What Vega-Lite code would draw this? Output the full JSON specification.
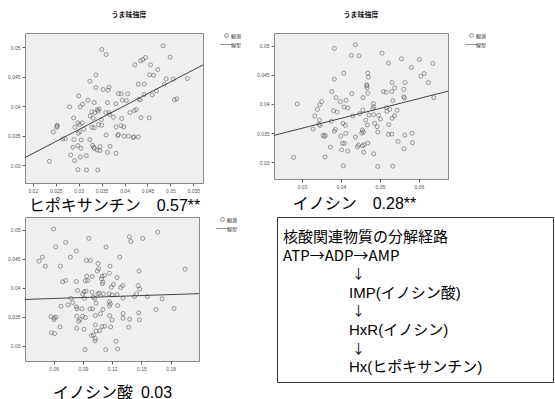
{
"$schema": "https://vega.github.io/schema/vega-lite/v6.json",
"background": "white",
"padding": {"left": 6, "top": 10, "right": 0, "bottom": 0},
"config": {
 "view": {"fill": "#efefef", "stroke": "#8a8a8a", "strokeWidth": 1},
 "axis": {"domain": false, "grid": false, "tickSize": 3, "tickColor": "#666", "labelFontSize": 5, "labelColor": "#555", "labelFont": "Liberation Sans", "labelPadding": 2, "labelOverlap": false, "labelFlush": false, "labelSeparation": 0, "titleFont": "Liberation Sans, Noto Sans CJK JP", "titleFontSize": 16, "titleFontWeight": "normal", "titleColor": "#000", "titlePadding": 5},
 "title": {"fontSize": 7, "fontWeight": "bold", "font": "Noto Sans CJK JP", "color": "#222", "offset": 15, "anchor": "middle"},
 "legend": {"orient": "right", "offset": 21, "title": null, "labelFontSize": 5, "labelFont": "Noto Sans CJK JP", "labelColor": "#333", "rowPadding": 2, "symbolSize": 16, "symbolStrokeWidth": 0.8, "symbolStrokeColor": "#444", "symbolFillColor": "transparent", "padding": 0, "labelOffset": 2}
},
"datasets": {
 "p1": [{"x":0.03504,"y":0.04961},{"x":0.03598,"y":0.04876},{"x":0.04841,"y":0.05023},{"x":0.04993,"y":0.04831},{"x":0.04458,"y":0.04825},{"x":0.04400,"y":0.04791},{"x":0.04350,"y":0.04768},{"x":0.04227,"y":0.04701},{"x":0.04567,"y":0.04701},{"x":0.04726,"y":0.04622},{"x":0.04545,"y":0.04531},{"x":0.04632,"y":0.04525},{"x":0.03374,"y":0.04531},{"x":0.03244,"y":0.04424},{"x":0.04906,"y":0.04463},{"x":0.05066,"y":0.04458},{"x":0.05369,"y":0.04469},{"x":0.04299,"y":0.04373},{"x":0.04429,"y":0.04373},{"x":0.04870,"y":0.04373},{"x":0.03374,"y":0.04316},{"x":0.03533,"y":0.04283},{"x":0.03641,"y":0.04271},{"x":0.03663,"y":0.04322},{"x":0.03865,"y":0.04215},{"x":0.03923,"y":0.04209},{"x":0.04068,"y":0.04209},{"x":0.04429,"y":0.04198},{"x":0.04603,"y":0.04192},{"x":0.04697,"y":0.04260},{"x":0.02998,"y":0.04175},{"x":0.02803,"y":0.03989},{"x":0.03034,"y":0.03989},{"x":0.03085,"y":0.04034},{"x":0.03200,"y":0.04102},{"x":0.03338,"y":0.04062},{"x":0.03627,"y":0.04062},{"x":0.03808,"y":0.04040},{"x":0.03952,"y":0.04102},{"x":0.04039,"y":0.04096},{"x":0.04314,"y":0.04119},{"x":0.04343,"y":0.04107},{"x":0.05087,"y":0.04107},{"x":0.05138,"y":0.04124},{"x":0.03403,"y":0.03938},{"x":0.03424,"y":0.03915},{"x":0.03446,"y":0.03955},{"x":0.03287,"y":0.03904},{"x":0.03352,"y":0.03893},{"x":0.03591,"y":0.03893},{"x":0.03663,"y":0.03893},{"x":0.03677,"y":0.03859},{"x":0.03251,"y":0.03836},{"x":0.03316,"y":0.03797},{"x":0.02889,"y":0.03802},{"x":0.03757,"y":0.03814},{"x":0.03938,"y":0.03791},{"x":0.04118,"y":0.03893},{"x":0.04212,"y":0.03927},{"x":0.04256,"y":0.03944},{"x":0.04357,"y":0.03808},{"x":0.04538,"y":0.03802},{"x":0.03497,"y":0.03774},{"x":0.02983,"y":0.03718},{"x":0.03019,"y":0.03689},{"x":0.03077,"y":0.03718},{"x":0.02918,"y":0.03644},{"x":0.03113,"y":0.03610},{"x":0.03287,"y":0.03644},{"x":0.03338,"y":0.03633},{"x":0.03432,"y":0.03689},{"x":0.03504,"y":0.03678},{"x":0.03815,"y":0.03650},{"x":0.03923,"y":0.03672},{"x":0.03981,"y":0.03650},{"x":0.02528,"y":0.03678},{"x":0.02521,"y":0.03644},{"x":0.02535,"y":0.03661},{"x":0.02448,"y":0.03565},{"x":0.03019,"y":0.03565},{"x":0.02991,"y":0.03542},{"x":0.03598,"y":0.03514},{"x":0.03851,"y":0.03503},{"x":0.03865,"y":0.03520},{"x":0.03988,"y":0.03492},{"x":0.04082,"y":0.03492},{"x":0.04191,"y":0.03469},{"x":0.04198,"y":0.03486},{"x":0.04299,"y":0.03480},{"x":0.02651,"y":0.03446},{"x":0.02709,"y":0.03452},{"x":0.02897,"y":0.03435},{"x":0.03056,"y":0.03429},{"x":0.03244,"y":0.03435},{"x":0.02875,"y":0.03305},{"x":0.03048,"y":0.03288},{"x":0.02983,"y":0.03333},{"x":0.03301,"y":0.03339},{"x":0.03323,"y":0.03305},{"x":0.03345,"y":0.03288},{"x":0.03403,"y":0.03260},{"x":0.03468,"y":0.03316},{"x":0.03460,"y":0.03249},{"x":0.03685,"y":0.03322},{"x":0.02824,"y":0.03175},{"x":0.03034,"y":0.03141},{"x":0.03164,"y":0.03164},{"x":0.03627,"y":0.03220},{"x":0.03815,"y":0.03203},{"x":0.02911,"y":0.03079},{"x":0.02362,"y":0.03068},{"x":0.02983,"y":0.02927},{"x":0.03171,"y":0.02921},{"x":0.03417,"y":0.02921}],
 "p1line": [{"x":0.0183,"y":0.0313},{"x":0.0571,"y":0.0470}],
 "p2": [{"x":0.04371,"y":0.05018},{"x":0.03831,"y":0.04955},{"x":0.04268,"y":0.04834},{"x":0.04465,"y":0.04828},{"x":0.05057,"y":0.04874},{"x":0.05554,"y":0.04776},{"x":0.06017,"y":0.04765},{"x":0.05220,"y":0.04702},{"x":0.06359,"y":0.04696},{"x":0.05811,"y":0.04627},{"x":0.04071,"y":0.04529},{"x":0.04688,"y":0.04529},{"x":0.04705,"y":0.04460},{"x":0.06051,"y":0.04477},{"x":0.06137,"y":0.04523},{"x":0.03831,"y":0.04426},{"x":0.04663,"y":0.04328},{"x":0.04663,"y":0.04311},{"x":0.04671,"y":0.04276},{"x":0.05314,"y":0.04368},{"x":0.05648,"y":0.04368},{"x":0.06248,"y":0.04368},{"x":0.03763,"y":0.04213},{"x":0.04277,"y":0.04178},{"x":0.04688,"y":0.04184},{"x":0.04568,"y":0.04109},{"x":0.05091,"y":0.04213},{"x":0.05160,"y":0.04201},{"x":0.05305,"y":0.04213},{"x":0.05382,"y":0.04276},{"x":0.05614,"y":0.04253},{"x":0.05614,"y":0.04121},{"x":0.05631,"y":0.04104},{"x":0.06385,"y":0.04109},{"x":0.03874,"y":0.04109},{"x":0.03986,"y":0.04040},{"x":0.04131,"y":0.04063},{"x":0.05331,"y":0.04058},{"x":0.03506,"y":0.04040},{"x":0.03454,"y":0.03989},{"x":0.03394,"y":0.03908},{"x":0.03326,"y":0.03793},{"x":0.02880,"y":0.04000},{"x":0.04080,"y":0.03948},{"x":0.04174,"y":0.03931},{"x":0.03806,"y":0.03885},{"x":0.03900,"y":0.03862},{"x":0.04560,"y":0.03897},{"x":0.04834,"y":0.04006},{"x":0.04843,"y":0.03954},{"x":0.04817,"y":0.03920},{"x":0.05168,"y":0.03937},{"x":0.05254,"y":0.03908},{"x":0.05177,"y":0.03874},{"x":0.05442,"y":0.03891},{"x":0.05374,"y":0.03799},{"x":0.05314,"y":0.03753},{"x":0.04303,"y":0.03793},{"x":0.04483,"y":0.03833},{"x":0.04723,"y":0.03810},{"x":0.04843,"y":0.03816},{"x":0.04963,"y":0.03805},{"x":0.03446,"y":0.03724},{"x":0.03437,"y":0.03649},{"x":0.03463,"y":0.03632},{"x":0.03754,"y":0.03701},{"x":0.04054,"y":0.03666},{"x":0.04114,"y":0.03632},{"x":0.04637,"y":0.03724},{"x":0.04680,"y":0.03638},{"x":0.04868,"y":0.03666},{"x":0.04928,"y":0.03609},{"x":0.05014,"y":0.03741},{"x":0.05228,"y":0.03644},{"x":0.03283,"y":0.03569},{"x":0.03857,"y":0.03563},{"x":0.03831,"y":0.03529},{"x":0.04551,"y":0.03552},{"x":0.04577,"y":0.03517},{"x":0.04534,"y":0.03500},{"x":0.03540,"y":0.03460},{"x":0.03574,"y":0.03442},{"x":0.03600,"y":0.03460},{"x":0.03994,"y":0.03448},{"x":0.04123,"y":0.03494},{"x":0.04371,"y":0.03431},{"x":0.04945,"y":0.03517},{"x":0.05220,"y":0.03477},{"x":0.05305,"y":0.03483},{"x":0.05640,"y":0.03465},{"x":0.05828,"y":0.03494},{"x":0.04037,"y":0.03322},{"x":0.04088,"y":0.03322},{"x":0.04448,"y":0.03293},{"x":0.04423,"y":0.03264},{"x":0.04551,"y":0.03281},{"x":0.04594,"y":0.03299},{"x":0.04688,"y":0.03327},{"x":0.03728,"y":0.03258},{"x":0.04020,"y":0.03212},{"x":0.04174,"y":0.03189},{"x":0.04585,"y":0.03172},{"x":0.04843,"y":0.03143},{"x":0.05468,"y":0.03356},{"x":0.05837,"y":0.03333},{"x":0.05622,"y":0.03230},{"x":0.02786,"y":0.03080},{"x":0.03591,"y":0.03086},{"x":0.04063,"y":0.02936},{"x":0.04945,"y":0.02925},{"x":0.05331,"y":0.02930}],
 "p2line": [{"x":0.0228,"y":0.0346},{"x":0.0675,"y":0.0422}],
 "p3": [{"x":0.0600,"y":0.05012},{"x":0.1667,"y":0.04960},{"x":0.09591,"y":0.04851},{"x":0.13763,"y":0.04880},{"x":0.1390,"y":0.04799},{"x":0.15131,"y":0.04851},{"x":0.07231,"y":0.04782},{"x":0.06205,"y":0.04707},{"x":0.11369,"y":0.04702},{"x":0.08326,"y":0.04633},{"x":0.04837,"y":0.04529},{"x":0.04495,"y":0.04460},{"x":0.05145,"y":0.04374},{"x":0.0771,"y":0.04529},{"x":0.12772,"y":0.04529},{"x":0.09352,"y":0.04472},{"x":0.09762,"y":0.04472},{"x":0.06684,"y":0.04374},{"x":0.10549,"y":0.04420},{"x":0.1178,"y":0.04374},{"x":0.14755,"y":0.04288},{"x":0.19475,"y":0.04322},{"x":0.10617,"y":0.04328},{"x":0.1048,"y":0.04288},{"x":0.11711,"y":0.04253},{"x":0.09386,"y":0.04201},{"x":0.09967,"y":0.04196},{"x":0.10959,"y":0.04201},{"x":0.11198,"y":0.04213},{"x":0.10891,"y":0.04155},{"x":0.11062,"y":0.04098},{"x":0.10993,"y":0.04069},{"x":0.12498,"y":0.04178},{"x":0.07231,"y":0.04127},{"x":0.06923,"y":0.04104},{"x":0.08326,"y":0.04109},{"x":0.09249,"y":0.04121},{"x":0.09488,"y":0.04127},{"x":0.08462,"y":0.03954},{"x":0.09112,"y":0.03931},{"x":0.08975,"y":0.03891},{"x":0.09317,"y":0.03943},{"x":0.09933,"y":0.03925},{"x":0.10549,"y":0.03897},{"x":0.10685,"y":0.03908},{"x":0.11096,"y":0.03897},{"x":0.11677,"y":0.03897},{"x":0.12122,"y":0.04058},{"x":0.11917,"y":0.04012},{"x":0.13079,"y":0.04040},{"x":0.12874,"y":0.04006},{"x":0.12498,"y":0.03885},{"x":0.11985,"y":0.03879},{"x":0.14653,"y":0.04040},{"x":0.14824,"y":0.03977},{"x":0.14482,"y":0.03897},{"x":0.14276,"y":0.03850},{"x":0.1561,"y":0.03850},{"x":0.07744,"y":0.03820},{"x":0.07949,"y":0.03747},{"x":0.09146,"y":0.03820},{"x":0.1007,"y":0.03839},{"x":0.10207,"y":0.03820},{"x":0.13114,"y":0.03822},{"x":0.11711,"y":0.03759},{"x":0.11814,"y":0.03724},{"x":0.11711,"y":0.03690},{"x":0.06752,"y":0.03684},{"x":0.07471,"y":0.03707},{"x":0.08326,"y":0.03672},{"x":0.08394,"y":0.03638},{"x":0.09728,"y":0.03638},{"x":0.10001,"y":0.03638},{"x":0.10343,"y":0.03736},{"x":0.11062,"y":0.03626},{"x":0.12566,"y":0.03695},{"x":0.17115,"y":0.03810},{"x":0.18346,"y":0.03644},{"x":0.16499,"y":0.03626},{"x":0.08907,"y":0.03638},{"x":0.10788,"y":0.03552},{"x":0.0836,"y":0.03511},{"x":0.08702,"y":0.03454},{"x":0.08565,"y":0.03425},{"x":0.08975,"y":0.03511},{"x":0.09249,"y":0.03488},{"x":0.05726,"y":0.03506},{"x":0.06068,"y":0.03483},{"x":0.06239,"y":0.03494},{"x":0.06034,"y":0.03454},{"x":0.10275,"y":0.03523},{"x":0.11746,"y":0.03523},{"x":0.11985,"y":0.03448},{"x":0.13114,"y":0.03557},{"x":0.13114,"y":0.03477},{"x":0.13798,"y":0.03460},{"x":0.14721,"y":0.03569},{"x":0.14789,"y":0.03448},{"x":0.0665,"y":0.03327},{"x":0.0836,"y":0.03304},{"x":0.09112,"y":0.03287},{"x":0.10275,"y":0.03362},{"x":0.10959,"y":0.03333},{"x":0.11233,"y":0.03339},{"x":0.1072,"y":0.03264},{"x":0.10343,"y":0.03258},{"x":0.11848,"y":0.03327},{"x":0.13695,"y":0.03322},{"x":0.05761,"y":0.03230},{"x":0.06103,"y":0.03212},{"x":0.09865,"y":0.03178},{"x":0.1007,"y":0.03189},{"x":0.10275,"y":0.03126},{"x":0.10241,"y":0.03086},{"x":0.12395,"y":0.03080},{"x":0.09215,"y":0.02936},{"x":0.11335,"y":0.02936},{"x":0.12566,"y":0.02948}],
 "p3line": [{"x":0.0306,"y":0.0380},{"x":0.209,"y":0.0390}],
 "path": [{"row":1,"level":0,"label":"核酸関連物質の分解経路"},{"row":2,"level":0,"label":"ATP→ADP→AMP"},{"row":3,"level":1,"label":"↓"},{"row":4,"level":1,"label":"IMP(イノシン酸)"},{"row":5,"level":1,"label":"↓"},{"row":6,"level":1,"label":"HxR(イノシン)"},{"row":7,"level":1,"label":"↓"},{"row":8,"level":1,"label":"Hx(ヒポキサンチン)"}]
},
"spacing": 2,
"vconcat": [
 {"hconcat": [
  {"width": 178, "height": 150,
   "title": {"text": "うま味強度", "dx": 15},
   "layer": [
    {"data": {"name": "p1"}, "mark": {"type": "point", "filled": false, "size": 16, "strokeWidth": 0.8, "color": "#555"},
     "encoding": {
      "x": {"field": "x", "type": "quantitative", "scale": {"domain": [0.0183, 0.0571], "nice": false, "zero": false}, "axis": {"values": [0.02,0.025,0.03,0.035,0.04,0.045,0.05,0.055], "tickCount": 50, "format": ".3~f", "labelOverlap": false, "title": "ヒポキサンチン　0.57**", "titlePadding": 4}},
      "y": {"field": "y", "type": "quantitative", "scale": {"domain": [0.027, 0.0524], "nice": false, "zero": false}, "axis": {"values": [0.03,0.035,0.04,0.045,0.05], "tickCount": 50, "format": ".3~f", "labelOverlap": false, "title": null}},
      "shape": {"datum": "観測", "scale": {"domain": ["観測","線型"], "range": ["circle","M-3.2,0H3.2"]}}
     }},
    {"data": {"name": "p1line"}, "mark": {"type": "line", "color": "#444", "strokeWidth": 1},
     "encoding": {"x": {"field": "x", "type": "quantitative"}, "y": {"field": "y", "type": "quantitative"}}}
   ]},
  {"width": 174, "height": 146,
   "title": {"text": "うま味強度"},
   "layer": [
    {"data": {"name": "p2"}, "mark": {"type": "point", "filled": false, "size": 16, "strokeWidth": 0.8, "color": "#555"},
     "encoding": {
      "x": {"field": "x", "type": "quantitative", "scale": {"domain": [0.0228, 0.0675], "nice": false, "zero": false}, "axis": {"values": [0.03,0.04,0.05,0.06], "tickCount": 50, "format": ".2f", "labelOverlap": false, "title": "イノシン　0.28**", "titlePadding": 6, "titleX": 80}},
      "y": {"field": "y", "type": "quantitative", "scale": {"domain": [0.0271, 0.0522], "nice": false, "zero": false}, "axis": {"values": [0.03,0.035,0.04,0.045,0.05], "tickCount": 50, "format": ".3~f", "labelOverlap": false, "title": null}},
      "shape": {"datum": "観測", "scale": {"domain": ["観測","線型"], "range": ["circle","M-3.2,0H3.2"]}}
     }},
    {"data": {"name": "p2line"}, "mark": {"type": "line", "color": "#444", "strokeWidth": 1},
     "encoding": {"x": {"field": "x", "type": "quantitative"}, "y": {"field": "y", "type": "quantitative"}}}
   ]}
 ], "spacing": 12, "resolve": {"scale": {"shape": "independent"}, "legend": {"shape": "independent"}}},
 {"hconcat": [
  {"width": 174, "height": 144,
   "layer": [
    {"data": {"name": "p3"}, "mark": {"type": "point", "filled": false, "size": 16, "strokeWidth": 0.8, "color": "#555"},
     "encoding": {
      "x": {"field": "x", "type": "quantitative", "scale": {"domain": [0.0306, 0.209], "nice": false, "zero": false}, "axis": {"values": [0.06,0.09,0.12,0.15,0.18], "tickCount": 50, "format": ".2f", "labelOverlap": false, "title": "イノシン酸\u20020.03", "titlePadding": 13}},
      "y": {"field": "y", "type": "quantitative", "scale": {"domain": [0.0274, 0.0522], "nice": false, "zero": false}, "axis": {"values": [0.03,0.035,0.04,0.045,0.05], "tickCount": 50, "format": ".3~f", "labelOverlap": false, "title": null}},
      "shape": {"datum": "観測", "scale": {"domain": ["観測","線型"], "range": ["circle","M-3.2,0H3.2"]}}
     }},
    {"data": {"name": "p3line"}, "mark": {"type": "line", "color": "#444", "strokeWidth": 1},
     "encoding": {"x": {"field": "x", "type": "quantitative"}, "y": {"field": "y", "type": "quantitative"}}}
   ]},
  {"width": 276, "height": 165,
   "view": {"fill": "white", "stroke": "#333", "strokeWidth": 1},
   "data": {"name": "path"},
   "encoding": {
     "x": {"field": "level", "type": "quantitative", "scale": {"domain": [-0.0909, 4.0909], "nice": false, "zero": false}, "axis": null},
     "y": {"field": "row", "type": "quantitative", "scale": {"domain": [-0.075, 8.796], "nice": false, "zero": false, "reverse": true}, "axis": null},
     "text": {"field": "label", "type": "nominal"}
   },
   "layer": [
    {"transform": [{"filter": "datum.row % 2 == 0 && datum.row > 2 || datum.row == 1"}], "mark": {"type": "text", "align": "left", "baseline": "middle", "fontSize": 15, "font": "Liberation Sans, Noto Sans CJK JP", "color": "#000"}},
    {"transform": [{"filter": "datum.row == 2"}], "mark": {"type": "text", "align": "left", "baseline": "middle", "fontSize": 15, "font": "Noto Sans CJK JP", "color": "#000"}},
    {"transform": [{"filter": "datum.row % 2 == 1 && datum.row > 1"}], "mark": {"type": "text", "align": "left", "baseline": "middle", "dx": 3, "fontSize": 13, "font": "Noto Sans CJK JP", "color": "#000"}}
   ]}
 ], "spacing": 37, "resolve": {"scale": {"shape": "independent"}, "legend": {"shape": "independent"}}}
],
"resolve": {"scale": {"shape": "independent"}, "legend": {"shape": "independent"}}
}
